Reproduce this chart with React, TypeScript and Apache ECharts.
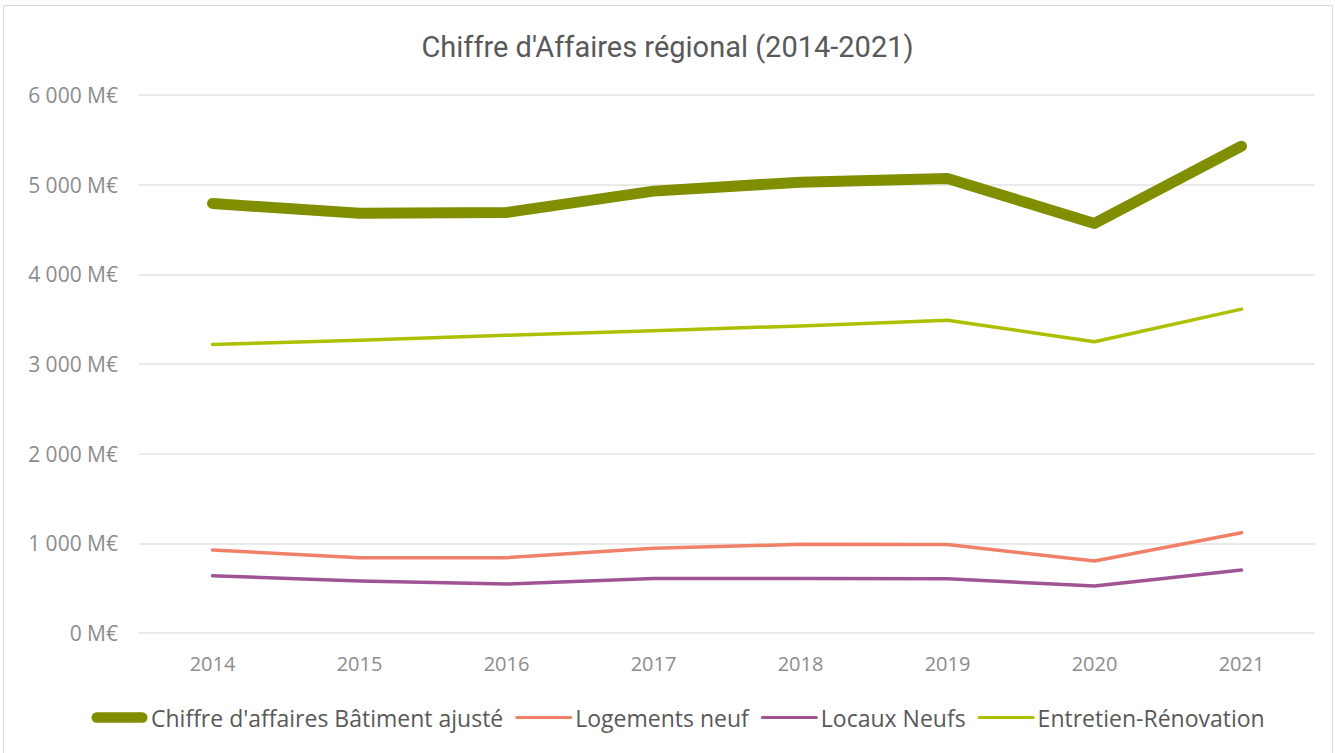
import React, { useEffect, useRef } from "react";
import * as echarts from "echarts";

const years = ["2014", "2015", "2016", "2017", "2018", "2019", "2020", "2021"];
const chiffreAffaires = [4790, 4680, 4690, 4928, 5028, 5070, 4567, 5429];
const logementsNeuf = [925, 840, 840, 944, 989, 987, 803, 1118];
const locauxNeufs = [639, 580, 546, 609, 609, 605, 524, 702];
const entretienRenovation = [3218, 3266, 3320, 3370, 3425, 3489, 3248, 3612];
const seriesNames = [
  "Chiffre d'affaires Bâtiment ajusté",
  "Logements neuf",
  "Locaux Neufs",
  "Entretien-Rénovation",
];
const seriesColors = ["#7f8f00", "#f08068", "#a05494", "#adc000"];

const FONT = "Open Sans";
const THICK_ICON = "path://M0,0M60,12M6,0.5h48a5.5,5.5 0 0 1 0,11h-48a5.5,5.5 0 0 1 0,-11z";
const THIN_ICON = "path://M0,0M60,12M1.6,4.4h56.8a1.6,1.6 0 0 1 0,3.2h-56.8a1.6,1.6 0 0 1 0,-3.2z";

export default function App() {
  const ref = useRef<HTMLDivElement>(null);
  useEffect(() => {
    if (!ref.current) return;
    const chart = echarts.init(ref.current, undefined, { renderer: "svg" });
    const fmt = (v: number) => {
      const s = String(Math.round(v));
      return s.replace(/\B(?=(\d{3})+(?!\d))/g, " ") + " M€";
    };
    const lineWidths = [11, 3.5, 3.5, 3.5];
    const seriesData = [chiffreAffaires, logementsNeuf, locauxNeufs, entretienRenovation];
    chart.setOption({
      animation: false,
      backgroundColor: "#ffffff",
      textStyle: { fontFamily: FONT },
      title: {
        text: "Chiffre d'Affaires régional (2014-2021)",
        left: "center",
        top: 27,
        textStyle: { fontFamily: "Roboto", fontSize: 29, fontWeight: "normal", color: "#595959" },
      },
      graphic: [
        {
          type: "rect",
          shape: { x: 3.5, y: 5.5, width: 1329, height: 760 },
          style: { fill: "none", stroke: "#d9d9d9", lineWidth: 1 },
          silent: true,
        },
      ],
      grid: { left: 139, right: 20, top: 95, bottom: 120, containLabel: false },
      legend: {
        bottom: 19,
        left: 86,
        itemWidth: 57,
        itemHeight: 11.4,
        itemGap: 12,
        textStyle: { fontFamily: FONT, fontSize: 23, color: "#595959", padding: [0, 0, 0, -2] },
        data: seriesNames.map((n, i) => ({
          name: n,
          icon: i === 0 ? THICK_ICON : THIN_ICON,
          itemStyle: { color: seriesColors[i] },
        })),
      },
      xAxis: {
        type: "category",
        data: years,
        boundaryGap: true,
        axisLine: { show: false },
        axisTick: { show: false },
        axisLabel: { fontFamily: FONT, fontSize: 20, color: "#8c8c8c", margin: 20 },
      },
      yAxis: {
        type: "value",
        min: 0,
        max: 6000,
        interval: 1000,
        axisLine: { show: false },
        axisTick: { show: false },
        splitLine: { lineStyle: { color: "#e3e3e3", width: 1.5 } },
        axisLabel: { fontFamily: FONT, fontSize: 21, color: "#8c8c8c", margin: 21, formatter: fmt },
      },
      series: seriesNames.map((n, i) => ({
        name: n,
        type: "line",
        data: seriesData[i],
        symbol: "none",
        lineStyle: { color: seriesColors[i], width: lineWidths[i], cap: "round", join: "round" },
        itemStyle: { color: seriesColors[i] },
        z: i === 0 ? 5 : 3,
      })),
    });
    return () => chart.dispose();
  }, []);
  return (
    <div
      ref={ref}
      style={{ position: "fixed", left: 0, top: 0, width: 1335, height: 753 }}
    />
  );
}
